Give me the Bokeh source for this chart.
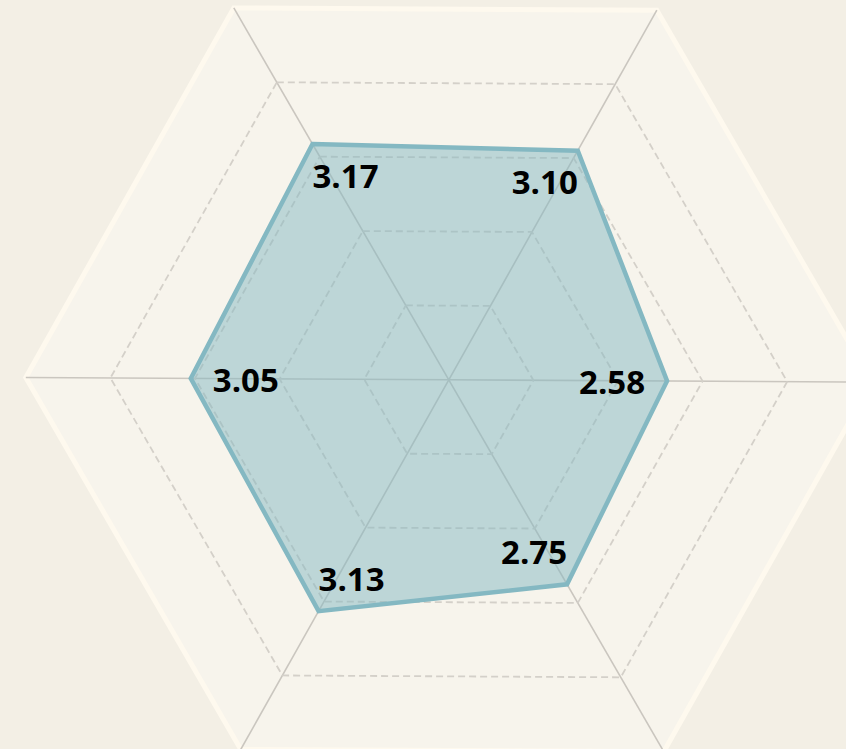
import numpy as np
from bokeh.plotting import figure
from bokeh.models import Range1d, ColumnDataSource
from bokeh.core.properties import value
from bokeh.embed import file_html
from bokeh.resources import INLINE

# ---- data ----
values = [3.17, 3.10, 2.58, 2.75, 3.13, 3.05]
value_labels = ["3.17", "3.10", "2.58", "2.75", "3.13", "3.05"]
ring_levels = [1, 2, 3, 4]
max_value = 5

# ---- styles ----
PAGE_BG = "#F3EFE5"
RADAR_BG = "#F7F4EC"
RING_EDGE = "#FEF9EE"
GRID = "#CAC6BF"
DASH = "#D4D0C9"
SERIES = "#84B8C2"

PX = 84.6  # pixels per value unit
W, H = 846, 749
CX, CY = 448.3, 379.3  # center in figure pixels (from left, from top)

# slight tilt of the radar plane (x' = x + SH*y, y' = SV*x + SY*y, y up)
SH, SV, SY = -0.0095, -0.0054, 1.012

n = len(values)
ang = np.deg2rad(120 - 60 * np.arange(n))
ux, uy = np.cos(ang), np.sin(ang)


def tf(x, y):
    x = np.asarray(x, float)
    y = np.asarray(y, float)
    return x + SH * y, SV * x + SY * y


p = figure(width=W, height=H, output_backend="svg", toolbar_location=None,
           x_range=Range1d(-CX / PX, (W - CX) / PX),
           y_range=Range1d(-(H - CY) / PX, CY / PX),
           min_border=0, match_aspect=False)
p.axis.visible = False
p.grid.visible = False
p.outline_line_color = None
p.background_fill_color = PAGE_BG
p.border_fill_color = PAGE_BG

# outer area
ox, oy = tf(ux * max_value, uy * max_value)
p.patch(list(ox), list(oy), fill_color=RADAR_BG,
        line_color=RING_EDGE, line_width=5, line_join="miter")

# spokes
for i in range(n):
    sx, sy = tf([0, ux[i] * max_value], [0, uy[i] * max_value])
    p.line(list(sx), list(sy), line_color=GRID, line_width=1.6)

# dashed rings
for lv in ring_levels:
    rx, ry = tf(list(ux * lv) + [ux[0] * lv], list(uy * lv) + [uy[0] * lv])
    p.line(list(rx), list(ry), line_color=DASH, line_width=1.8, line_dash="7 4")

# series
vx, vy = tf(ux * np.array(values), uy * np.array(values))
p.patch(list(vx), list(vy), fill_color=SERIES, fill_alpha=0.5,
        line_color=SERIES, line_width=4.5, line_join="miter")

# labels
xoff, yoff, aligns = [], [], []
for i in range(n):
    inx, iny = -ux[i], uy[i]  # inward direction in screen coords (y down)
    if abs(iny) < 0.1:
        xoff.append(inx * 22)
        yoff.append(2)
    else:
        xoff.append(0)
        yoff.append(iny * 37)
    if ux[i] < -0.1:
        aligns.append("left")
    elif ux[i] > 0.1:
        aligns.append("right")
    else:
        aligns.append("center")

src = ColumnDataSource(dict(x=vx, y=vy, t=value_labels, xo=xoff, yo=yoff, al=aligns))
p.text(x="x", y="y", text="t", source=src, x_offset="xo", y_offset="yo",
       text_align="al", text_baseline="middle", text_font=value("Open Sans"),
       text_font_style="bold", text_font_size="33px", text_color="#000000")

html = file_html(p, INLINE)
html = html.replace("</head>",
                    "<style>html,body{background:%s;margin:0;padding:0;overflow:hidden;}</style></head>" % PAGE_BG, 1)
open("out.html", "w").write(html)
